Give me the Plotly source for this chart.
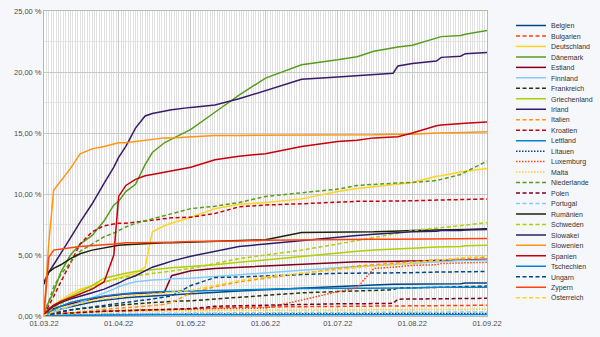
import plotly.graph_objects as go

dates = ["2022-03-01", "2022-03-03", "2022-03-05", "2022-03-08", "2022-03-12", "2022-03-16",
         "2022-03-21", "2022-03-26", "2022-03-30", "2022-04-01", "2022-04-04", "2022-04-08",
         "2022-04-12", "2022-04-15", "2022-04-20", "2022-04-23", "2022-05-01", "2022-05-11",
         "2022-05-21", "2022-06-01", "2022-06-16", "2022-07-01", "2022-07-09", "2022-07-16",
         "2022-07-24", "2022-07-26", "2022-08-01", "2022-08-11", "2022-08-13", "2022-08-21",
         "2022-08-23", "2022-09-01"]

belgien = [0.05, 0.2, 0.35, 0.55, 0.75, 0.95, 1.15, 1.3, 1.4, 1.45, 1.5, 1.55, 1.6, 1.65, 1.7, 1.75,
           1.85, 1.95, 2.05, 2.15, 2.3, 2.45, 2.5, 2.55, 2.6, 2.6, 2.6, 2.65, 2.65, 2.65, 2.7, 2.7]
bulgarien = [0.02, 0.08, 0.12, 0.18, 0.24, 0.3, 0.35, 0.4, 0.42, 0.44, 0.46, 0.48, 0.5, 0.52, 0.55, 0.57,
             0.6, 0.7, 0.72, 0.74, 0.76, 0.78, 0.8, 0.8, 0.82, 0.82, 0.83, 0.84, 0.85, 0.86, 0.86, 0.88]
deutschland = [0.1, 0.5, 0.9, 1.3, 1.8, 2.2, 2.5, 2.8, 3.0, 3.1, 3.3, 3.5, 4.0, 6.9, 7.4, 7.6,
               8.1, 8.8, 9.15, 9.3, 9.6, 10.2, 10.45, 10.6, 10.8, 10.85, 10.95, 11.45, 11.5, 11.8, 11.85, 12.1]
daenemark = [0.3, 1.2, 2.0, 3.6, 5.0, 5.9, 6.6, 7.8, 9.1, 9.4, 10.2, 10.8, 12.4, 13.4, 14.2, 14.5,
             15.3, 16.7, 18.1, 19.5, 20.6, 21.0, 21.25, 21.7, 22.0, 22.05, 22.2, 22.8, 22.9, 23.0, 23.1, 23.4]
estland = [0.1, 0.4, 0.6, 0.8, 1.0, 1.2, 1.4, 1.6, 1.7, 1.75, 1.8, 1.85, 1.9, 1.9, 1.95, 3.3,
           3.7, 3.9, 4.0, 4.1, 4.25, 4.4, 4.45, 4.45, 4.5, 4.5, 4.5, 4.55, 4.55, 4.6, 4.6, 4.65]
finnland = [0.0, 0.2, 0.35, 0.5, 0.8, 1.1, 1.5, 1.9, 2.2, 2.4, 2.6, 2.8, 2.9, 2.95, 3.0, 3.05,
            3.1, 3.25, 3.4, 3.55, 3.75, 3.95, 4.05, 4.1, 4.2, 4.25, 4.35, 4.45, 4.5, 4.55, 4.55, 4.6]
frankreich = [0.02, 0.1, 0.2, 0.35, 0.5, 0.6, 0.7, 0.8, 0.85, 0.9, 0.95, 1.0, 1.05, 1.1, 1.15, 1.2,
              1.25, 1.4, 1.5, 1.7, 1.9, 2.0, 2.05, 2.1, 2.15, 2.3, 2.3, 2.35, 2.35, 2.4, 2.4, 2.45]
griechenland = [0.1, 0.5, 0.8, 1.2, 1.6, 2.0, 2.5, 3.1, 3.3, 3.4, 3.5, 3.65, 3.75, 3.8, 3.9, 3.95,
                4.05, 4.2, 4.4, 4.6, 4.9, 5.2, 5.3, 5.4, 5.45, 5.5, 5.55, 5.65, 5.65, 5.7, 5.75, 5.8]
irland = [2.8, 3.6, 4.2, 5.1, 6.4, 7.7, 9.2, 10.9, 12.2, 13.0, 13.9, 15.4, 16.4, 16.6, 16.8, 16.9,
          17.1, 17.3, 17.8, 18.5, 19.4, 19.6, 19.7, 19.8, 19.9, 20.5, 20.7, 20.9, 21.2, 21.3, 21.5, 21.6]
italien = [0.0, 0.05, 0.1, 0.15, 0.25, 0.35, 0.45, 0.55, 0.6, 0.65, 0.7, 0.75, 0.8, 0.85, 0.95, 1.1,
           1.9, 2.4, 2.8, 3.1, 3.5, 3.9, 4.1, 4.2, 4.3, 4.35, 4.45, 4.6, 4.6, 4.7, 4.7, 4.8]
kroatien = [0.1, 0.8, 1.6, 2.8, 4.4, 5.9, 6.9, 7.4, 7.55, 7.6, 7.6, 7.7, 7.8, 7.9, 8.0, 8.05,
            8.1, 8.4, 8.95, 9.1, 9.2, 9.35, 9.4, 9.4, 9.45, 9.45, 9.45, 9.5, 9.5, 9.5, 9.55, 9.6]
lettland = [0.05, 0.3, 0.5, 0.8, 1.1, 1.3, 1.5, 1.65, 1.75, 1.8, 1.85, 1.9, 1.95, 1.95, 2.0, 2.0,
            2.05, 2.1, 2.15, 2.2, 2.25, 2.25, 2.3, 2.3, 2.3, 2.3, 2.3, 2.35, 2.35, 2.35, 2.35, 2.35]
litauen = [0.0, 0.02, 0.04, 0.06, 0.08, 0.1, 0.11, 0.12, 0.13, 0.13, 0.14, 0.14, 0.15, 0.15, 0.15, 0.16,
           0.16, 0.17, 0.17, 0.18, 0.18, 0.19, 0.19, 0.19, 0.2, 0.2, 0.2, 0.2, 0.2, 0.21, 0.21, 0.21]
luxemburg = [0.0, 0.1, 0.15, 0.2, 0.25, 0.3, 0.35, 0.4, 0.42, 0.44, 0.46, 0.48, 0.5, 0.52, 0.54, 0.55,
             0.58, 0.6, 0.62, 0.65, 1.3, 2.0, 2.3, 3.9, 4.0, 4.05, 4.15, 4.2, 4.3, 4.35, 4.35, 4.4]
malta = [0.0, 0.05, 0.1, 0.15, 0.2, 0.25, 0.3, 0.32, 0.35, 0.36, 0.37, 0.38, 0.39, 0.4, 0.41, 0.42,
         0.43, 0.45, 0.46, 0.47, 0.48, 0.5, 0.5, 0.5, 0.5, 0.5, 0.51, 0.52, 0.52, 0.53, 0.53, 0.55]
niederlande = [0.2, 1.2, 2.4, 3.4, 4.4, 5.3, 5.9, 6.5, 6.8, 7.0, 7.3, 7.6, 7.8, 8.0, 8.2, 8.4,
               8.8, 9.0, 9.3, 9.8, 10.1, 10.4, 10.7, 10.8, 10.9, 10.9, 10.95, 11.1, 11.2, 11.6, 11.8, 12.7]
polen = [0.02, 0.1, 0.15, 0.2, 0.25, 0.3, 0.35, 0.38, 0.4, 0.42, 0.44, 0.46, 0.48, 0.5, 0.52, 0.54,
         0.6, 0.8, 0.85, 0.9, 0.95, 1.0, 1.0, 1.02, 1.04, 1.38, 1.4, 1.42, 1.42, 1.44, 1.44, 1.45]
portugal = [0.0, 0.03, 0.05, 0.08, 0.1, 0.13, 0.15, 0.17, 0.19, 0.2, 0.2, 0.21, 0.22, 0.22, 0.23, 0.23,
            0.24, 0.25, 0.26, 0.27, 0.28, 0.29, 0.3, 0.3, 0.3, 0.3, 0.31, 0.31, 0.31, 0.32, 0.32, 0.33]
rumaenien = [2.6, 3.6, 3.9, 4.2, 4.7, 5.1, 5.4, 5.6, 5.7, 5.8, 5.85, 5.9, 5.95, 5.95, 6.0, 6.0,
             6.05, 6.1, 6.15, 6.25, 6.85, 6.85, 6.9, 6.9, 6.95, 6.95, 7.0, 7.05, 7.05, 7.1, 7.1, 7.15]
schweden = [0.1, 0.4, 0.7, 1.0, 1.4, 1.8, 2.3, 2.8, 3.0, 3.1, 3.2, 3.3, 3.4, 3.5, 3.6, 3.7,
            3.9, 4.3, 4.7, 5.0, 5.4, 5.9, 6.2, 6.4, 6.7, 6.8, 7.0, 7.2, 7.25, 7.4, 7.45, 7.65]
slowakei = [0.1, 0.5, 0.8, 1.1, 1.4, 1.6, 1.9, 2.2, 2.5, 2.7, 3.0, 3.3, 3.7, 4.0, 4.3, 4.5,
            4.9, 5.3, 5.7, 5.9, 6.2, 6.45, 6.6, 6.7, 6.8, 6.8, 6.9, 6.95, 7.0, 7.0, 7.05, 7.1]
slowenien = [0.2, 6.0, 10.3, 11.1, 12.1, 13.3, 13.7, 13.9, 14.1, 14.2, 14.2, 14.3, 14.4, 14.5, 14.6, 14.6,
             14.7, 14.8, 14.8, 14.8, 14.85, 14.85, 14.85, 14.85, 14.9, 14.9, 14.9, 15.0, 15.0, 15.05, 15.05, 15.1]
spanien = [0.1, 0.6, 0.9, 1.2, 1.5, 1.8, 2.2, 2.8, 5.0, 9.8, 10.7, 11.2, 11.5, 11.6, 11.8, 11.9,
           12.2, 12.8, 13.1, 13.3, 13.9, 14.3, 14.4, 14.6, 14.7, 14.7, 15.0, 15.6, 15.65, 15.8, 15.8, 15.9]
tschechien = [0.0, 0.02, 0.04, 0.05, 0.06, 0.07, 0.08, 0.08, 0.09, 0.09, 0.09, 0.1, 0.1, 0.1, 0.1, 0.1,
              0.1, 0.1, 0.1, 0.1, 0.1, 0.1, 0.1, 0.1, 0.1, 0.1, 0.1, 0.1, 0.1, 0.1, 0.1, 0.12]
ungarn = [0.05, 0.15, 0.25, 0.35, 0.5, 0.6, 0.75, 0.9, 1.0, 1.05, 1.1, 1.2, 1.3, 1.4, 1.55, 1.65,
          2.5, 3.15, 3.2, 3.3, 3.4, 3.5, 3.5, 3.5, 3.55, 3.55, 3.55, 3.6, 3.6, 3.6, 3.6, 3.65]
zypern = [0.2, 4.8, 5.4, 5.5, 5.6, 5.7, 5.8, 5.85, 5.9, 5.95, 6.0, 6.0, 6.0, 6.0, 6.05, 6.05,
          6.1, 6.1, 6.15, 6.2, 6.25, 6.3, 6.3, 6.3, 6.3, 6.3, 6.3, 6.3, 6.3, 6.3, 6.3, 6.35]
oesterreich = [0.05, 0.2, 0.4, 0.6, 0.85, 1.05, 1.25, 1.4, 1.5, 1.55, 1.6, 1.7, 1.75, 1.8, 1.9, 1.95,
               2.1, 2.5, 2.9, 3.2, 3.5, 3.8, 4.0, 4.1, 4.2, 4.25, 4.35, 4.55, 4.6, 4.75, 4.8, 4.9]

series = [
    ("Belgien", belgien, "#004586", "solid"),
    ("Bulgarien", bulgarien, "#ff420e", "dash"),
    ("Deutschland", deutschland, "#ffd320", "solid"),
    ("Dänemark", daenemark, "#579d1c", "solid"),
    ("Estland", estland, "#7e0021", "solid"),
    ("Finnland", finnland, "#83caff", "solid"),
    ("Frankreich", frankreich, "#2b3310", "dash"),
    ("Griechenland", griechenland, "#aecf00", "solid"),
    ("Irland", irland, "#3a1a66", "solid"),
    ("Italien", italien, "#ff950e", "dash"),
    ("Kroatien", kroatien, "#c5000b", "dash"),
    ("Lettland", lettland, "#0084d1", "solid"),
    ("Litauen", litauen, "#004586", "dot"),
    ("Luxemburg", luxemburg, "#ff420e", "dot"),
    ("Malta", malta, "#ffd320", "dot"),
    ("Niederlande", niederlande, "#579d1c", "dash"),
    ("Polen", polen, "#7e0021", "dash"),
    ("Portugal", portugal, "#83caff", "dash"),
    ("Rumänien", rumaenien, "#1c2208", "solid"),
    ("Schweden", schweden, "#aecf00", "dash"),
    ("Slowakei", slowakei, "#2a1f6a", "solid"),
    ("Slowenien", slowenien, "#ff950e", "solid"),
    ("Spanien", spanien, "#c5000b", "solid"),
    ("Tschechien", tschechien, "#0084d1", "solid"),
    ("Ungarn", ungarn, "#004586", "dash"),
    ("Zypern", zypern, "#ff420e", "solid"),
    ("Österreich", oesterreich, "#ffd320", "dash"),
]

dash_map = {"solid": "solid", "dash": "4px,2.5px", "dot": "1.5px,1.5px"}

# plot area in pixels
W, H = 600, 337
L, R, T, B = 44, 113, 11, 21
plot_h = H - T - B
plot_w = W - L - R

FONT = "Liberation Sans, Arial, sans-serif"
fig = go.Figure()
legend_layout = {}
for i, (name, vals, color, dash) in enumerate(series):
    lg = "legend" if i == 0 else f"legend{i + 1}"
    fig.add_trace(go.Scatter(
        x=dates, y=vals, name=name, mode="lines",
        line=dict(color=color, width=1.5, dash=dash_map[dash]),
        legend=lg, showlegend=True,
    ))
    py = 25.5 + 10.47 * i
    legend_layout[lg] = dict(
        x=(511 - L) / plot_w, y=(H - B - py) / plot_h,
        xanchor="left", yanchor="middle",
        bgcolor="rgba(0,0,0,0)", borderwidth=0,
        font=dict(family=FONT, size=7, color="#333333"),
    )

fig.update_layout(
    width=W, height=H,
    margin=dict(l=L, r=R, t=T, b=B, autoexpand=False),
    paper_bgcolor="#f6f7fb",
    plot_bgcolor="#ffffff",
    separators=",.",
    font=dict(family=FONT, size=7.5, color="#4d4d4d"),
    **legend_layout,
)

fig.update_xaxes(
    type="date", range=["2022-03-01", "2022-09-01"],
    tick0="2022-03-01", dtick="M1", tickformat="%d.%m.%y",
    showgrid=True, gridcolor="#c8c8c8", gridwidth=1,
    minor=dict(dtick=86400000, showgrid=True, gridcolor="#e0e0e0", gridwidth=1),
    showline=True, linecolor="#b8b8b8", mirror=True,
    ticks="", zeroline=False,
    tickfont=dict(family=FONT, size=7.5, color="#4d4d4d"),
)
fig.update_yaxes(
    range=[0, 25], tick0=0, dtick=5, tickformat=".2f", ticksuffix=" %",
    showgrid=True, gridcolor="#c8c8c8", gridwidth=1,
    minor=dict(dtick=2.5, showgrid=True, gridcolor="#e2e2e2", gridwidth=1),
    showline=True, linecolor="#b8b8b8", mirror=True,
    ticks="", zeroline=False,
    tickfont=dict(family=FONT, size=7.5, color="#4d4d4d"),
)

fig.write_html("out.html")
